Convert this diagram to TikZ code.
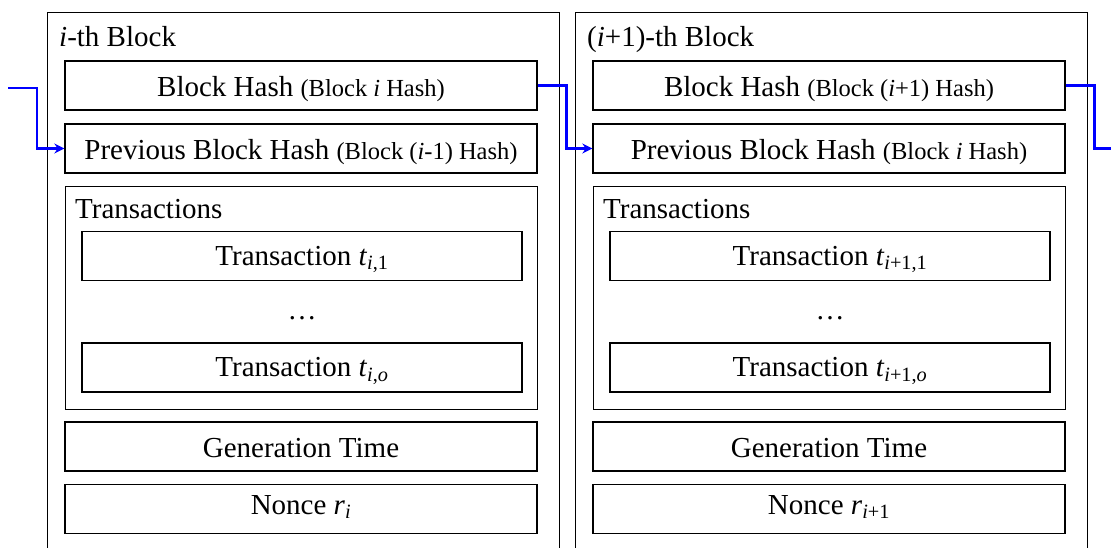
\documentclass[tikz,border=0pt]{standalone}
\usepackage{fontspec}
\setmainfont{Liberation Serif}
\usetikzlibrary{positioning,arrows.meta}

\newcommand{\sm}[1]{{\fontsize{24.5}{28}\selectfont #1}}

\begin{document}
\begin{tikzpicture}[x=1pt,y=-1pt,>={Stealth[length=10pt,width=10pt]},
  every node/.style={font=\fontsize{29}{34}\selectfont,inner sep=0pt},
  blockbox/.style={draw,line width=1.3pt,minimum width=512pt,minimum height=560pt,anchor=north west},
  field/.style={draw,line width=1.3pt,minimum width=472pt,minimum height=49pt,text height=24pt,text depth=3pt},
  txgroup/.style={draw,line width=1.3pt,minimum width=472pt,minimum height=223pt,anchor=north west},
  txbox/.style={draw,line width=1.3pt,minimum width=440pt,minimum height=49pt,text height=21pt,text depth=3pt},
  noncebox/.style={field,text depth=14pt},
  title/.style={anchor=base west},
  link/.style={draw=blue,line width=2.8pt}]
\useasboundingbox (0,0) rectangle (1111,547);
\clip (0,0) rectangle (1111,547);

% i-th block
\node[blockbox] (blockA) at (47,12) {};
\node[title] (titleA) at (59,46) {\textit{i}-th Block};
\node[field] (hashA) at (301,85.5) {Block Hash \sm{(Block \textit{i} Hash)}};
\node[field] (prevA) at (301,148.5) {Previous Block Hash \sm{(Block (\textit{i}-1) Hash)}};
\node[txgroup] (txsA) at (65,186) {};
\node[title] (txlabelA) at (75,218) {Transactions};
\node[txbox] (txfirstA) at (302,256) {Transaction \textit{t}\textsubscript{\textit{i},1}};
\node (dotsA) at (302,318) {\ldots};
\node[txbox] (txlastA) at (302,367.5) {Transaction \textit{t}\textsubscript{\textit{i},\textit{o}}};
\node[field] (timeA) at (301,446.5) {Generation Time};
\node[noncebox] (nonceA) at (301,509) {Nonce \textit{r}\textsubscript{\textit{i}}};

% (i+1)-th block
\node[blockbox] (blockB) at (575,12) {};
\node[title] (titleB) at (587,46) {(\textit{i}+1)-th Block};
\node[field] (hashB) at (829,85.5) {Block Hash \sm{(Block (\textit{i}+1) Hash)}};
\node[field] (prevB) at (829,148.5) {Previous Block Hash \sm{(Block \textit{i} Hash)}};
\node[txgroup] (txsB) at (593,186) {};
\node[title] (txlabelB) at (603,218) {Transactions};
\node[txbox] (txfirstB) at (830,256) {Transaction \textit{t}\textsubscript{\textit{i}+1,1}};
\node (dotsB) at (830,318) {\ldots};
\node[txbox] (txlastB) at (830,367.5) {Transaction \textit{t}\textsubscript{\textit{i}+1,\textit{o}}};
\node[field] (timeB) at (829,446.5) {Generation Time};
\node[noncebox] (nonceB) at (829,509) {Nonce \textit{r}\textsubscript{\textit{i}+1}};

% hash links
\coordinate (inA) at (8,88);
\coordinate (outB) at (1111,148.5);
\draw[link,->] (inA) -- ++(29,0) |- (prevA.west);
\draw[link,->] (hashA.east) -- ++(29,0) |- (prevB.west);
\draw[link] (hashB.east) -- ++(29,0) |- (outB);
\end{tikzpicture}
\end{document}
